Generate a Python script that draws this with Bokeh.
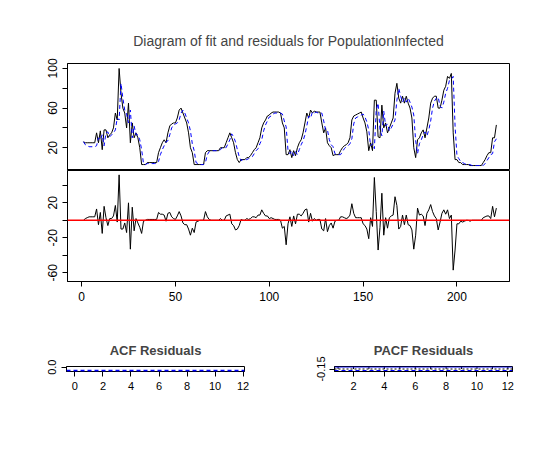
from bokeh.embed import file_html
from bokeh.layouts import column, row
from bokeh.models import Range1d, Span, FixedTicker
from bokeh.plotting import figure
from bokeh.resources import INLINE

FONT = "Liberation Sans"

observed = [
    26, 25, 25, 25, 25, 25, 25, 35, 25, 37,
    18, 38, 38, 30, 33, 35, 40, 55, 48, 100,
    75, 60, 55, 40, 65, 25, 45, 30, 35, 30,
    20, 3, 3, 3, 5, 5, 5, 5, 5, 5,
    15, 20, 25, 28, 25, 35, 42, 44, 45, 45,
    50, 58, 60, 55, 50, 45, 35, 20, 15, 3,
    3, 3, 3, 3, 3, 15, 17, 17, 17, 17,
    17, 17, 17, 20, 20, 20, 25, 30, 35, 30,
    25, 15, 8, 5, 8, 8, 8, 10, 10, 12,
    15, 18, 20, 25, 30, 40, 45, 48, 52, 53,
    55, 56, 56, 56, 56, 55, 45, 40, 13, 13,
    18, 10, 17, 12, 20, 25, 28, 35, 45, 55,
    50, 58, 55, 57, 56, 56, 56, 45, 35, 40,
    25, 22, 20, 12, 13, 13, 13, 17, 20, 22,
    23, 25, 30, 48, 52, 53, 54, 55, 56, 50,
    45, 36, 17, 25, 17, 68, 68, 31, 30, 63,
    40, 45, 35, 40, 45, 50, 75, 85, 70, 65,
    72, 65, 72, 65, 60, 50, 20, 10, 28, 30,
    35, 38, 30, 40, 50, 65, 70, 72, 72, 60,
    60, 68, 78, 82, 92, 90, 95, 35, 8, 8,
    5, 5, 3, 3, 3, 3, 2, 2, 2, 2,
    2, 2, 2, 5, 8, 12, 15, 15, 30, 30, 43,
]

fitted = [
    26, 23, 22, 21, 21, 21, 21, 22, 30, 28,
    33, 22, 35, 36, 31, 33, 35, 38, 50, 48,
    85, 70, 58, 54, 45, 58, 30, 42, 33, 33,
    28, 18, 4, 3, 4, 4, 4, 4, 4, 4,
    6, 13, 18, 22, 26, 27, 33, 40, 43, 44,
    45, 48, 55, 58, 55, 50, 45, 37, 24, 17,
    5, 4, 3, 3, 3, 5, 13, 16, 17, 17,
    17, 17, 17, 18, 20, 20, 20, 24, 28, 34,
    31, 26, 18, 11, 7, 8, 8, 8, 9, 10,
    11, 14, 17, 19, 24, 28, 37, 43, 47, 51,
    52, 54, 55, 55, 55, 55, 54, 47, 41, 17,
    14, 17, 12, 16, 13, 18, 23, 27, 33, 42,
    52, 50, 56, 55, 56, 55, 55, 55, 47, 38,
    38, 28, 23, 21, 14, 13, 13, 13, 16, 19,
    21, 22, 24, 29, 44, 50, 51, 52, 53, 54,
    51, 46, 38, 22, 24, 19, 58, 65, 38, 32,
    57, 42, 44, 37, 40, 44, 48, 68, 80, 72,
    66, 70, 66, 70, 66, 61, 53, 27, 14, 24,
    28, 33, 36, 32, 38, 47, 60, 67, 70, 71,
    62, 60, 66, 75, 80, 88, 89, 92, 42, 12,
    9, 6, 5, 4, 3, 3, 3, 2, 2, 2,
    2, 2, 2, 2, 4, 7, 10, 13, 14, 26, 29,
]

time = list(range(1, len(observed) + 1))
residuals = [o - f for o, f in zip(observed, fitted)]

fit_ticks = [20, 40, 60, 80, 100]
fit_labels = {20: "20", 40: "", 60: "60", 80: "", 100: "100"}
res_ticks = [-60, -40, -20, 0, 20, 40]
res_labels = {-60: "-60", -40: "", -20: "-20", 0: "", 20: "20", 40: ""}
time_ticks = [0, 50, 100, 150, 200]

acf_lags = [0, 2, 4, 6, 8, 10, 12]
acf_bound = -0.05
pacf_lags = list(range(1, 13))
pacf_ticks = [2, 4, 6, 8, 10, 12]
pacf_upper = -0.11
pacf_mid = -0.15
pacf_lower = -0.18


def style(p, font_size="12px"):
    p.outline_line_color = "black"
    p.outline_line_alpha = 1
    p.grid.visible = False
    p.background_fill_color = "white"
    p.border_fill_color = "white"
    for ax in p.axis:
        ax.major_label_text_font = FONT
        ax.major_label_text_font_size = font_size
        ax.major_label_text_color = "black"
        ax.major_tick_in = 0
        ax.major_tick_out = 5
        ax.minor_tick_out = 0
        ax.minor_tick_in = 0
        ax.axis_line_color = "black"
        ax.major_tick_line_color = "black"
    for ax in p.yaxis:
        ax.major_label_orientation = "vertical"


fit = figure(
    frame_width=442, frame_height=107,
    min_border_left=67, min_border_right=12, min_border_top=63, min_border_bottom=0,
    x_range=Range1d(-7.5, 228), y_range=Range1d(-3, 105),
    title="Diagram of fit and residuals for PopulationInfected",
    output_backend="svg", toolbar_location=None,
)
fit.line(time, observed, color="black", line_width=1)
fit.line(time, fitted, color="blue", line_width=1, line_dash="4 3")
fit.xaxis.visible = False
style(fit)
fit.yaxis.ticker = FixedTicker(ticks=fit_ticks)
fit.yaxis.major_label_overrides = fit_labels
fit.title.align = "center"
fit.title.text_font = FONT
fit.title.text_font_style = "normal"
fit.title.text_font_size = "14px"
fit.title.standoff = 30

res = figure(
    frame_width=442, frame_height=111,
    min_border_left=67, min_border_right=12, min_border_top=0, min_border_bottom=30,
    x_range=fit.x_range, y_range=Range1d(-70, 57),
    output_backend="svg", toolbar_location=None,
)
res.line(time, residuals, color="black", line_width=1)
res.add_layout(Span(location=0, dimension="width", line_color="red", line_width=1.5))
style(res)
res.xaxis.ticker = FixedTicker(ticks=time_ticks)
res.yaxis.ticker = FixedTicker(ticks=res_ticks)
res.yaxis.major_label_overrides = res_labels

acf = figure(
    frame_width=178, frame_height=5,
    min_border_left=66, min_border_right=50, min_border_top=55, min_border_bottom=25,
    x_range=Range1d(-0.6, 12.1), y_range=Range1d(-0.06, 0.01),
    title="ACF Residuals",
    output_backend="svg", toolbar_location=None,
)
acf.add_layout(Span(location=acf_bound, dimension="width", line_color="blue",
                    line_width=2, line_dash="4 3"))
style(acf, "11px")
acf.xaxis.ticker = FixedTicker(ticks=acf_lags)
acf.yaxis.ticker = FixedTicker(ticks=[0])
acf.yaxis.major_label_overrides = {0: "0.0"}

pacf = figure(
    frame_width=178, frame_height=5,
    min_border_left=40, min_border_right=9, min_border_top=55, min_border_bottom=25,
    x_range=Range1d(0.77, 12.3), y_range=Range1d(-0.2, -0.1),
    title="PACF Residuals",
    output_backend="svg", toolbar_location=None,
)
pacf.segment(x0=pacf_lags, y0=[pacf_mid] * len(pacf_lags), x1=pacf_lags,
             y1=[pacf_upper] * len(pacf_lags), color="black", line_width=1)
pacf.add_layout(Span(location=pacf_upper, dimension="width", line_color="blue", line_width=1))
pacf.add_layout(Span(location=pacf_mid, dimension="width", line_color="black",
                     line_width=1, line_dash="2 2"))
pacf.add_layout(Span(location=pacf_lower, dimension="width", line_color="blue",
                     line_width=1, line_dash="4 3"))
style(pacf, "11px")
pacf.xaxis.ticker = FixedTicker(ticks=pacf_ticks)
pacf.yaxis.ticker = FixedTicker(ticks=[pacf_mid])
pacf.yaxis.major_label_overrides = {pacf_mid: "-0.15"}

for p in (acf, pacf):
    p.title.align = "center"
    p.title.text_font = FONT
    p.title.text_font_style = "bold"
    p.title.text_font_size = "13px"
    p.title.standoff = 18

layout = column(fit, res, row(acf, pacf, spacing=0), spacing=0)
open("out.html", "w").write(file_html(layout, INLINE))
